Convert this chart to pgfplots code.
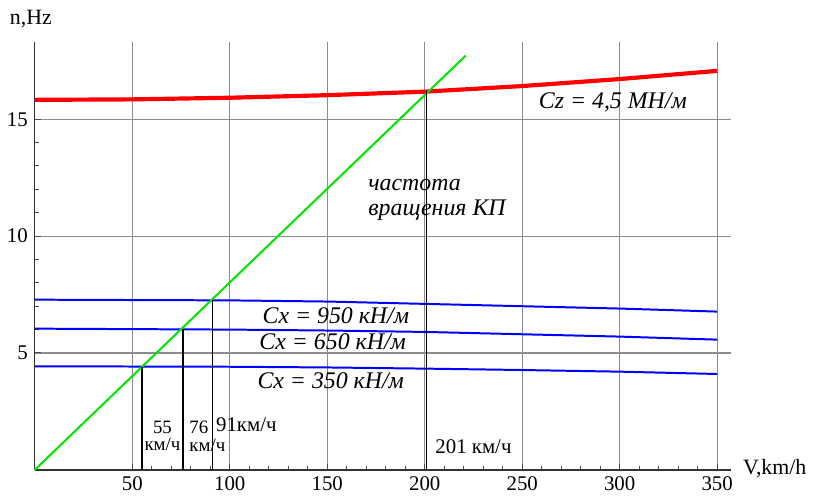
\documentclass[border=0pt]{standalone}
\usepackage{fontspec}
\setmainfont{Liberation Serif}
\usepackage{pgfplots}
\pgfplotsset{compat=1.18}
\begin{document}
\begin{tikzpicture}
\begin{axis}[
  scale only axis,
  width=350.4pt, height=215.3pt,
  xmin=0, xmax=357, ymin=0, ymax=18.3,
  axis x line=bottom, axis y line=left,
  axis line style={-, black!80, line width=0.7pt},
  xtick={50,100,...,350}, ytick={5,10,15},
  minor x tick num=4, minor y tick num=4,
  tick align=inside,
  major tick length=3pt, minor tick length=2pt,
  tick style={black!70, line width=0.5pt},
  grid=major,
  major grid style={black!45, line width=0.6pt},
  ticklabel style={font=\fontsize{10.5}{12}\selectfont},
  /pgf/number format/assume math mode=true,
  clip=false,
]
\addplot[red, line width=2.1pt] coordinates {(0,15.83) (50,15.85) (100,15.92) (150,16.03) (200,16.18) (250,16.42) (300,16.72) (350,17.07)};
\addplot[blue, line width=1pt] coordinates {(0,7.28) (100,7.25) (150,7.2) (200,7.1) (250,7.0) (300,6.9) (350,6.77)};
\addplot[blue, line width=1pt] coordinates {(0,6.04) (100,6.0) (150,5.96) (200,5.9) (250,5.8) (300,5.7) (350,5.57)};
\addplot[blue, line width=1pt] coordinates {(0,4.43) (100,4.41) (150,4.38) (200,4.33) (250,4.27) (300,4.2) (350,4.1)};
\addplot[green!90!black, line width=1pt] coordinates {(0,0) (221,17.72)};
\addplot[black, line width=0.6pt] coordinates {(55,0) (55,4.42)};
\addplot[black, line width=0.6pt] coordinates {(76,0) (76,6.02)};
\addplot[black, line width=0.6pt] coordinates {(91,0) (91,7.26)};
\addplot[black, line width=0.6pt] coordinates {(201,0) (201,16.19)};
\node[font=\fontsize{11}{13}\selectfont] at (axis cs:-2,19.3) {n,Hz};
\node[font=\fontsize{11}{13}\selectfont] at (axis cs:379.5,0.05) {V,km/h};
\node[font=\itshape\fontsize{12}{14}\selectfont] at (axis cs:296.5,15.74) {Cz = 4,5 МН/м};
\node[font=\itshape\fontsize{12}{13}\selectfont, anchor=west, align=left] at (axis cs:167.5,11.55) {частота\\вращения КП};
\node[font=\itshape\fontsize{12}{14}\selectfont] at (axis cs:154.4,6.6) {Cx = 950 кН/м};
\node[font=\itshape\fontsize{12}{14}\selectfont] at (axis cs:152.8,5.49) {Cx = 650 кН/м};
\node[font=\itshape\fontsize{12}{14}\selectfont] at (axis cs:151.8,3.83) {Cx = 350 кН/м};
\node[font=\fontsize{9.5}{9}\selectfont, align=center, inner sep=0pt] at (axis cs:65.5,1.45) {55\\км/ч};
\node[font=\fontsize{9.5}{9}\selectfont, align=left, inner sep=0pt] at (axis cs:88.5,1.45) {76\\км/ч};
\node[font=\fontsize{10.5}{12}\selectfont, inner sep=0pt] at (axis cs:108.5,1.91) {91км/ч};
\node[font=\fontsize{10.5}{12}\selectfont, inner sep=1pt] at (axis cs:225,0.98) {201 км/ч};
\end{axis}
\useasboundingbox (-17.5pt,-11pt) rectangle (389pt,236.5pt);
\end{tikzpicture}
\end{document}
